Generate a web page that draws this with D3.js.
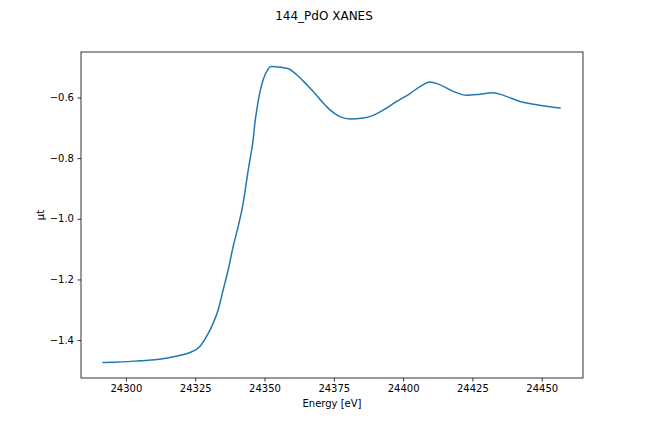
<!DOCTYPE html>
<html>
<head>
<meta charset="utf-8">
<script src="https://cdn.jsdelivr.net/npm/d3@7"></script>
<style>
  body { margin: 0; background: #fff; }
  svg text { font-family: "DejaVu Sans", sans-serif; fill: #000; }
</style>
</head>
<body>
<svg id="svg0" width="648" height="432"></svg>
<script>
// energy in eV, absorption mu*t
var energy = [24291.8, 24296, 24300.8, 24305, 24310.5, 24315, 24317.7, 24320, 24323.1, 24326.7,
  24329.1, 24331.5, 24333.3, 24335.1, 24336.9, 24338.7, 24340.5, 24342.3, 24343.6, 24344.2,
  24345.1, 24345.9, 24346.6, 24347.5, 24348.4, 24349.3, 24350.2, 24351.2, 24352.2,
  24354.4, 24358.6, 24361.6, 24364, 24366.4, 24369, 24371.2, 24373.6, 24377.2, 24380.8,
  24385.6, 24389.2, 24392.9, 24397.7, 24402.5, 24406.1, 24409.7, 24412.7, 24418.1, 24423.0,
  24427.8, 24432.5, 24436.2, 24442.2, 24448.2, 24456.6];
var mut = [-1.474, -1.473, -1.471, -1.468, -1.465, -1.459, -1.454, -1.449, -1.441, -1.421,
  -1.388, -1.344, -1.300, -1.234, -1.168, -1.091, -1.025, -0.948, -0.871, -0.835,
  -0.787, -0.7395, -0.679, -0.625, -0.580, -0.548, -0.525, -0.508, -0.498,
  -0.499, -0.505, -0.525, -0.546, -0.569, -0.595, -0.6185, -0.641, -0.663, -0.671,
  -0.668, -0.659, -0.641, -0.613, -0.587, -0.564, -0.549, -0.556, -0.580, -0.593,
  -0.589, -0.584, -0.593, -0.613, -0.624, -0.635];
var xTicks = [24300, 24325, 24350, 24375, 24400, 24425, 24450];
var yTicks = [-1.4, -1.2, -1.0, -0.8, -0.6];

var svg = d3.select('#svg0');

var plotLeft = 81, plotRight = 583, plotTop = 52, plotBottom = 378;

var x = d3.scaleLinear()
    .domain([24283.8, 24464.9])
    .range([plotLeft, plotRight]);

var y = d3.scaleLinear()
    .domain([-1.525, -0.450])
    .range([plotBottom, plotTop]);

var pts = energy.map(function (e, i) { return [e, mut[i]]; });

var line = d3.line()
    .x(function (d) { return x(d[0]); })
    .y(function (d) { return y(d[1]); })
    .curve(d3.curveMonotoneX);

svg.append('path')
    .datum(pts)
    .attr('d', line)
    .attr('fill', 'none')
    .attr('stroke', '#1f77b4')
    .attr('stroke-width', 1.5)
    .attr('stroke-linejoin', 'round')
    .attr('stroke-linecap', 'square');

var xAxis = svg.append('g')
    .attr('transform', 'translate(0,' + plotBottom + ')')
    .call(d3.axisBottom(x).tickValues(xTicks).tickFormat(d3.format('d'))
        .tickSizeInner(3.5).tickSizeOuter(0).tickPadding(3.5));

var yAxis = svg.append('g')
    .attr('transform', 'translate(' + plotLeft + ',0)')
    .call(d3.axisLeft(y).tickValues(yTicks).tickFormat(d3.format('.1f'))
        .tickSizeInner(3.5).tickSizeOuter(0).tickPadding(3.5));

[xAxis, yAxis].forEach(function (g) {
    g.select('.domain').remove();
    g.selectAll('.tick line').attr('stroke', '#000').attr('stroke-width', 0.8);
    g.selectAll('.tick text').attr('font-size', 10).attr('font-family', 'DejaVu Sans');
});

// frame
svg.append('rect')
    .attr('x', plotLeft)
    .attr('y', plotTop)
    .attr('width', plotRight - plotLeft)
    .attr('height', plotBottom - plotTop)
    .attr('fill', 'none')
    .attr('stroke', '#000')
    .attr('stroke-width', 0.8);

svg.append('text')
    .attr('x', 324)
    .attr('y', 20)
    .attr('text-anchor', 'middle')
    .attr('font-size', 12)
    .text('144_PdO XANES');

svg.append('text')
    .attr('x', (plotLeft + plotRight) / 2)
    .attr('y', 407)
    .attr('text-anchor', 'middle')
    .attr('font-size', 10)
    .text('Energy [eV]');

svg.append('text')
    .attr('transform', 'translate(44,' + (plotTop + plotBottom) / 2 + ') rotate(-90)')
    .attr('text-anchor', 'middle')
    .attr('font-size', 10)
    .text('μt');
</script>
</body>
</html>
